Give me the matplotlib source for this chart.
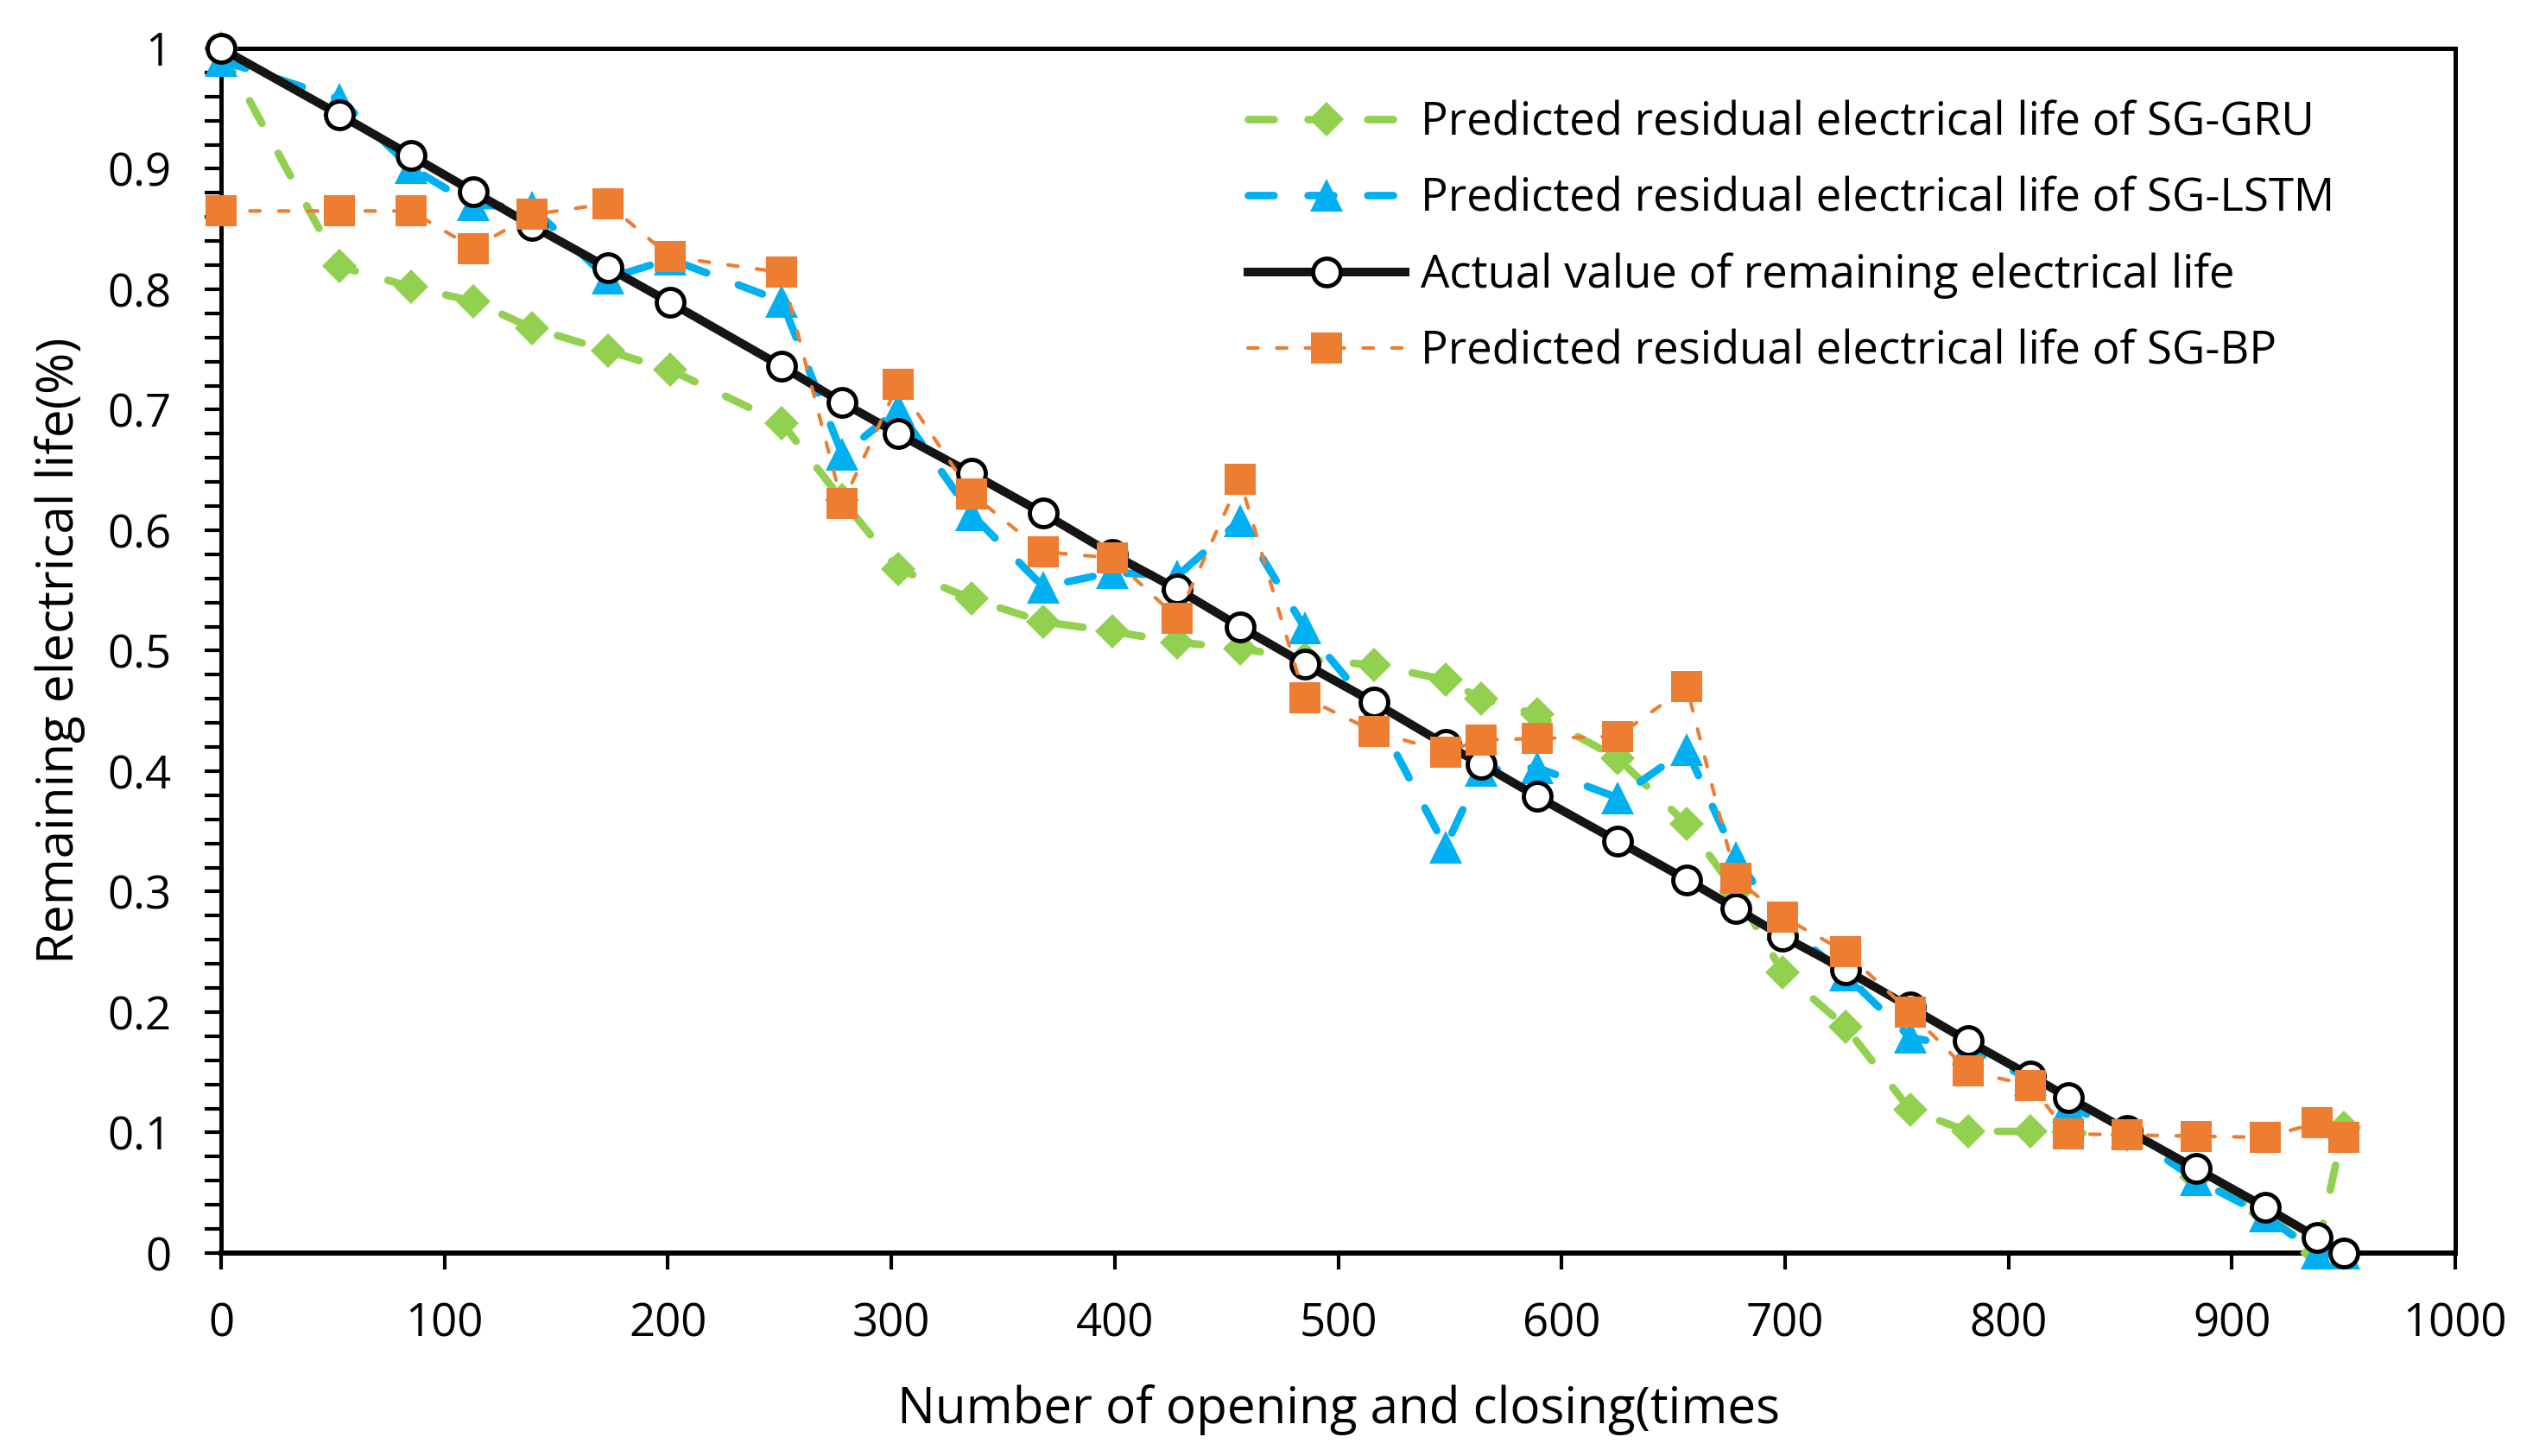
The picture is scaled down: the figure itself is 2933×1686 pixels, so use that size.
import matplotlib
matplotlib.use("Agg")
import matplotlib.pyplot as plt
from matplotlib.ticker import MultipleLocator, FuncFormatter

plt.rcParams['font.family'] = ['Open Sans', 'DejaVu Sans']

# Number of opening and closing operations
x_ops = [0, 53, 85, 113, 139, 173, 201, 251, 278, 303, 336, 368, 399, 428, 456,
         485, 516, 548, 564, 589, 625, 656, 678, 699, 727, 756, 782, 810, 827,
         853, 884, 915, 938, 950]

actual = [1.0, 0.945, 0.911, 0.881, 0.853, 0.818, 0.789, 0.736, 0.706, 0.680,
          0.647, 0.614, 0.580, 0.551, 0.520, 0.489, 0.457, 0.422, 0.406, 0.379,
          0.342, 0.310, 0.286, 0.263, 0.235, 0.204, 0.176, 0.147, 0.129, 0.102,
          0.070, 0.038, 0.013, 0.0]

sg_gru = [1.0, 0.819, 0.802, 0.790, 0.768, 0.749, 0.733, 0.689, 0.625, 0.568,
          0.543, 0.524, 0.516, 0.507, 0.502, 0.493, 0.488, 0.476, 0.460, 0.447,
          0.411, 0.356, 0.300, 0.233, 0.188, 0.119, 0.101, 0.101, 0.100, 0.098,
          0.063, 0.033, 0.0, 0.104]

sg_lstm = [0.99, 0.958, 0.901, 0.870, 0.868, 0.809, 0.825, 0.790, 0.663, 0.700,
           0.613, 0.553, 0.565, 0.562, 0.608, 0.519, 0.450, 0.337, 0.401, 0.403,
           0.378, 0.418, 0.328, 0.273, 0.231, 0.179, 0.170, 0.144, 0.122, 0.100,
           0.061, 0.031, 0.0, 0.0]

sg_bp = [0.865, 0.865, 0.865, 0.834, 0.862, 0.871, 0.827, 0.814, 0.622, 0.721,
         0.630, 0.582, 0.577, 0.527, 0.642, 0.461, 0.433, 0.416, 0.426, 0.427,
         0.429, 0.470, 0.311, 0.279, 0.250, 0.200, 0.151, 0.139, 0.099, 0.098,
         0.097, 0.096, 0.108, 0.096]

labels = ["Predicted residual electrical life of SG-GRU",
          "Predicted residual electrical life of SG-LSTM",
          "Actual value of remaining electrical life",
          "Predicted residual electrical life of SG-BP"]

x_ticks = [0, 100, 200, 300, 400, 500, 600, 700, 800, 900, 1000]

fig = plt.figure(figsize=(29.33, 16.86), dpi=100)
ax = fig.add_axes([0.0873, 0.1394, 0.9693 - 0.0873, 0.9668 - 0.1394])

ax.plot(x_ops, sg_gru, color='#92D050', lw=6.3, dashes=(3.4, 4.5),
        dash_capstyle='round', marker='D', ms=20.5, mec='#92D050', mfc='#92D050',
        mew=0, label=labels[0], clip_on=False, zorder=3)
ax.plot(x_ops, sg_lstm, color='#00B0F0', lw=6.3, dashes=(3.4, 4.5),
        dash_capstyle='round', marker='^', ms=27, mec='#00B0F0', mfc='#00B0F0',
        mew=0, label=labels[1], clip_on=False, zorder=4)
ax.plot(x_ops, actual, color='#151515', lw=7.2, marker='o', ms=23,
        mfc='white', mec='black', mew=3.5, label=labels[2], clip_on=False,
        zorder=5)
ax.plot(x_ops, sg_bp, color='#ED7D31', lw=3, dashes=(2.8, 5.2),
        dash_capstyle='round', marker='s', ms=26, mec='#ED7D31', mfc='#ED7D31',
        mew=0, label=labels[3], clip_on=False, zorder=6)

ax.set_xlim(0, 1000)
ax.set_ylim(0, 1)
ax.set_xticks(x_ticks)
ax.yaxis.set_major_locator(MultipleLocator(0.1))
ax.yaxis.set_minor_locator(MultipleLocator(0.02))


def yfmt(v, p):
    if abs(v) < 1e-9:
        return "0"
    if abs(v - 1) < 1e-9:
        return "1"
    return f"{v:.1f}"


ax.yaxis.set_major_formatter(FuncFormatter(yfmt))

ax.tick_params(axis='both', which='both', direction='out', length=13.7,
               width=3, labelsize=38, colors='black')
ax.tick_params(axis='x', pad=27)
ax.tick_params(axis='y', pad=28)

for side in ['top', 'right', 'left']:
    ax.spines[side].set_linewidth(3.6)
ax.spines['bottom'].set_linewidth(4.3)

ax.set_xlabel("Number of opening and closing(times", fontsize=42)
ax.set_ylabel("Remaining electrical life(%)", fontsize=42)
ax.xaxis.set_label_coords(0.5, -0.1093)
ax.yaxis.set_label_coords(-0.0608, 0.5)

leg = ax.legend(loc='upper left', bbox_to_anchor=(0.4597, 0.957), frameon=False,
                fontsize=38, handlelength=3.45, handletextpad=0.34,
                labelspacing=0.66, borderpad=0, borderaxespad=0)

fig.savefig("out.png", dpi=100, facecolor='white')
